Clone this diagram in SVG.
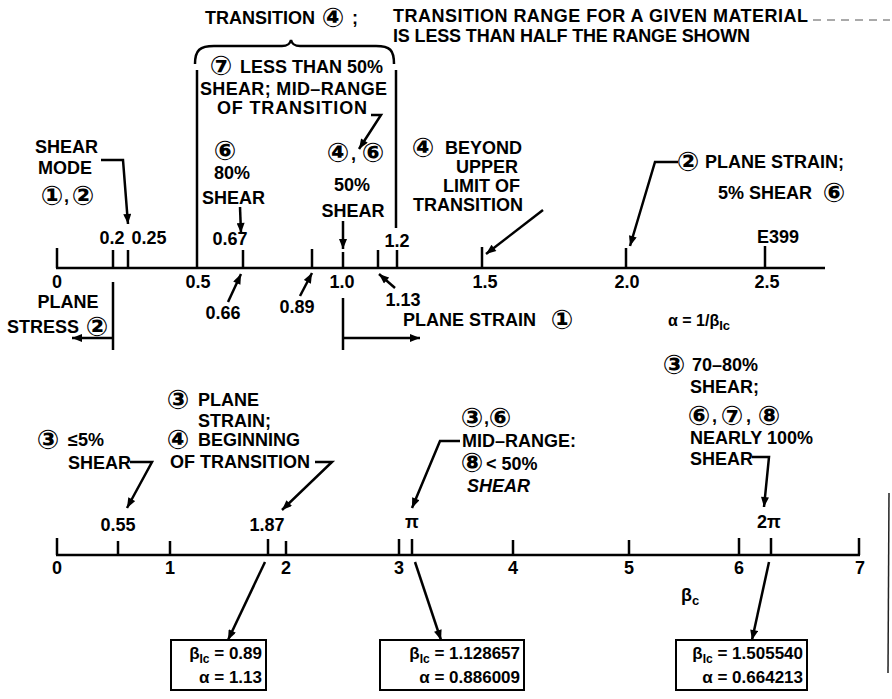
<svg xmlns="http://www.w3.org/2000/svg" width="892" height="699" viewBox="0 0 892 699">
<defs>
<style>
.t{font-family:"Liberation Sans","DejaVu Sans",sans-serif;font-weight:bold;font-size:18px;fill:#000}
.c{font-family:"DejaVu Sans","Liberation Sans",sans-serif;font-weight:bold;font-size:27px;fill:#000;text-anchor:middle}
.m{text-anchor:middle}
.e{text-anchor:end}
.b{font-size:17px}
.f{font-size:16px}
.ln{stroke:#000;stroke-width:2.5;fill:none}
.ar{marker-end:url(#ah)}
.tk{stroke:#000;stroke-width:2.5}
.bx{fill:#fff;stroke:#000;stroke-width:2}
</style>
<marker id="ah" viewBox="0 0 10 8" refX="10" refY="4" markerWidth="11" markerHeight="8" markerUnits="userSpaceOnUse" orient="auto">
<path d="M0,0 L10,4 L0,8 z" fill="#000"/>
</marker>
</defs>
<rect width="892" height="699" fill="#fff"/>

<g id="title">
<text class="t" x="205" y="24">TRANSITION</text>
<text class="c" x="333" y="27">④</text>
<text class="t" x="352" y="24">;</text>
<text class="t" x="393" y="22" textLength="415">TRANSITION RANGE FOR A GIVEN MATERIAL</text>
<text class="t" x="393" y="42" textLength="357">IS LESS THAN HALF THE RANGE SHOWN</text>
</g>

<g id="transition-bracket">
<path class="ln" d="M195,64 C195,50 200,46 214,46 L282,46 C288,46 290,44 291,40 C292,44 294,46 300,46 L376,46 C390,46 394,50 394,64"/>
<line class="tk" x1="197" y1="70" x2="197" y2="268"/>
<line class="tk" x1="396" y1="70" x2="396" y2="228"/>
<text class="c" x="221" y="75">⑦</text>
<text class="t" x="240" y="73">LESS THAN 50%</text>
<text class="t" x="200" y="95" textLength="187">SHEAR; MID–RANGE</text>
<text class="t" x="217" y="114" textLength="150">OF TRANSITION</text>
</g>

<g id="n-80shear">
<text class="c" x="225" y="160">⑥</text>
<text class="t m" x="232" y="179">80%</text>
<text class="t" x="202" y="204">SHEAR</text>
</g>

<g id="n-50shear">
<text class="c" x="338" y="162">④</text>
<text class="t" x="351" y="160">,</text>
<text class="c" x="373" y="162">⑥</text>
<text class="t m" x="352" y="191">50%</text>
<text class="t m" x="353" y="217">SHEAR</text>
</g>

<g id="n-shearmode">
<text class="t" x="35" y="153">SHEAR</text>
<text class="t" x="38" y="174">MODE</text>
<text class="c" x="52" y="205">①</text>
<text class="t" x="64" y="202">,</text>
<text class="c" x="83" y="205">②</text>
</g>

<g id="n-beyond">
<text class="c" x="423" y="157">④</text>
<text class="t" x="445" y="154">BEYOND</text>
<text class="t e" x="518" y="173">UPPER</text>
<text class="t e" x="520" y="192">LIMIT OF</text>
<text class="t e" x="523" y="211">TRANSITION</text>
</g>

<g id="n-planestrain2">
<text class="c" x="688" y="171">②</text>
<text class="t" x="705" y="168">PLANE STRAIN;</text>
<text class="t" x="718" y="199">5% SHEAR</text>
<text class="c" x="834" y="202">⑥</text>
</g>

<g id="upper-axis">
<line class="tk" x1="56" y1="268" x2="825" y2="268" stroke-width="3"/>
<line class="tk" x1="57" y1="248" x2="57" y2="268"/>
<line class="tk" x1="113" y1="250" x2="113" y2="268"/>
<line class="tk" x1="128" y1="250" x2="128" y2="268"/>
<line class="tk" x1="243" y1="250" x2="243" y2="268" stroke-width="5"/>
<line class="tk" x1="312" y1="249" x2="312" y2="268"/>
<line class="tk" x1="343" y1="252" x2="343" y2="268"/>
<line class="tk" x1="378" y1="250" x2="378" y2="268"/>
<line class="tk" x1="397" y1="250" x2="397" y2="268"/>
<line class="tk" x1="482" y1="247" x2="482" y2="268"/>
<line class="tk" x1="626" y1="248" x2="626" y2="268"/>
<line class="tk" x1="765" y1="246" x2="765" y2="268"/>
<text class="t m" x="112" y="244">0.2</text>
<text class="t m" x="149" y="244">0.25</text>
<text class="t m" x="230" y="245">0.67</text>
<text class="t m" x="397" y="247">1.2</text>
<text class="t m" x="778" y="243">E399</text>
<text class="t m" x="57" y="288">0</text>
<text class="t m" x="198" y="288">0.5</text>
<text class="t m" x="342" y="288">1.0</text>
<text class="t m" x="485" y="288">1.5</text>
<text class="t m" x="627" y="288">2.0</text>
<text class="t m" x="767" y="288">2.5</text>
<text class="t m" x="403" y="306">1.13</text>
<text class="t m" x="223" y="319">0.66</text>
<text class="t m" x="297" y="313">0.89</text>
</g>

<g id="n-planestress">
<text class="t m" x="68" y="308">PLANE</text>
<text class="t" x="7" y="333">STRESS</text>
<text class="c" x="97" y="336">②</text>
</g>

<g id="n-planestrain1">
<text class="t" x="403" y="326">PLANE STRAIN</text>
<text class="c" x="562" y="329">①</text>
</g>

<g id="n-alpha">
<text class="t f" x="668" y="326">α = 1/β<tspan font-size="13" dy="4">Ic</tspan></text>
</g>

<g id="n-le5">
<text class="c" x="48" y="449">③</text>
<text class="t" x="68" y="446">≤5%</text>
<text class="t" x="68" y="469">SHEAR</text>
</g>

<g id="n-beginning">
<text class="c" x="178" y="409">③</text>
<text class="t" x="198" y="406">PLANE</text>
<text class="t" x="198" y="427">STRAIN;</text>
<text class="c" x="178" y="449">④</text>
<text class="t" x="198" y="446">BEGINNING</text>
<text class="t" x="170" y="468">OF TRANSITION</text>
</g>

<g id="n-midrange">
<text class="c" x="472" y="427">③</text>
<text class="t" x="484" y="424">,</text>
<text class="c" x="500" y="427">⑥</text>
<text class="t" x="462" y="447">MID–RANGE:</text>
<text class="c" x="472" y="472" font-size="24">⑧</text>
<text class="t" x="486" y="470">&lt; 50%</text>
<text class="t" x="467" y="492" font-style="italic">SHEAR</text>
</g>

<g id="n-nearly100">
<text class="c" x="674" y="374">③</text>
<text class="t" x="692" y="371">70–80%</text>
<text class="t" x="690" y="393">SHEAR;</text>
<text class="c" x="699" y="425">⑥</text>
<text class="t" x="712" y="422">,</text>
<text class="c" x="732" y="425">⑦</text>
<text class="t" x="746" y="422">,</text>
<text class="c" x="769" y="425">⑧</text>
<text class="t" x="690" y="444">NEARLY 100%</text>
<text class="t" x="690" y="465">SHEAR</text>
</g>

<g id="lower-axis">
<line class="tk" x1="56" y1="555" x2="860" y2="555" stroke-width="3"/>
<line class="tk" x1="57" y1="538" x2="57" y2="555"/>
<line class="tk" x1="118" y1="541" x2="118" y2="555"/>
<line class="tk" x1="170" y1="541" x2="170" y2="555"/>
<line class="tk" x1="268" y1="539" x2="268" y2="555"/>
<line class="tk" x1="286" y1="541" x2="286" y2="555"/>
<line class="tk" x1="399" y1="539" x2="399" y2="555"/>
<line class="tk" x1="412" y1="539" x2="412" y2="555"/>
<line class="tk" x1="513" y1="540" x2="513" y2="555"/>
<line class="tk" x1="629" y1="540" x2="629" y2="555"/>
<line class="tk" x1="739" y1="538" x2="739" y2="555"/>
<line class="tk" x1="771" y1="538" x2="771" y2="555"/>
<line class="tk" x1="859" y1="538" x2="859" y2="555"/>
<text class="t m" x="118" y="531">0.55</text>
<text class="t m" x="267" y="531">1.87</text>
<text class="t m" x="412" y="528">π</text>
<text class="t m" x="769" y="528">2π</text>
<text class="t m" x="57" y="574">0</text>
<text class="t m" x="170" y="574">1</text>
<text class="t m" x="286" y="574">2</text>
<text class="t m" x="399" y="574">3</text>
<text class="t m" x="513" y="574">4</text>
<text class="t m" x="629" y="574">5</text>
<text class="t m" x="739" y="574">6</text>
<text class="t m" x="860" y="574">7</text>
<text class="t m" x="690" y="601">β<tspan font-size="13" dy="4">c</tspan></text>
</g>

<g id="box-1">
<rect class="bx" x="171" y="640" width="95" height="50"/>
<text class="t b e" x="262" y="659">β<tspan font-size="12" dy="4">Ic</tspan><tspan dy="-4"> = 0.89</tspan></text>
<text class="t b e" x="262" y="683">α = 1.13</text>
</g>

<g id="box-2">
<rect class="bx" x="380" y="640" width="144" height="50"/>
<text class="t b e" x="520" y="659">β<tspan font-size="12" dy="4">Ic</tspan><tspan dy="-4"> = 1.128657</tspan></text>
<text class="t b e" x="520" y="683">α = 0.886009</text>
</g>

<g id="box-3">
<rect class="bx" x="676" y="640" width="131" height="50"/>
<text class="t b e" x="803" y="659">β<tspan font-size="12" dy="4">Ic</tspan><tspan dy="-4"> = 1.505540</tspan></text>
<text class="t b e" x="803" y="683">α = 0.664213</text>
</g>

<g id="connectors">
<path class="ln ar" d="M101,160 H123 L128,224"/>
<path class="ln ar" d="M371,115 H381 L359,149"/>
<path class="ln ar" d="M240,207 L241,233"/>
<path class="ln ar" d="M343,221 V249"/>
<path class="ln ar" d="M543,210 L486,254"/>
<path class="ln ar" d="M678,162 H655 L630,246"/>
<path class="ln ar" d="M228,302 L241,274"/>
<path class="ln ar" d="M300,296 L312,273"/>
<path class="ln ar" d="M395,288 L379,274"/>
<path class="ln" d="M113,282 V350"/>
<path class="ln ar" d="M113,338 H72"/>
<path class="ln" d="M343,298 V350"/>
<path class="ln ar" d="M343,338 H420"/>
<path class="ln ar" d="M130,462 H152 L127,508"/>
<path class="ln ar" d="M315,462 H332 L282,510"/>
<path class="ln ar" d="M460,441 H440 L412,508"/>
<path class="ln ar" d="M752,457 H769 L764,507"/>
<path class="ln ar" d="M265,562 L228,640"/>
<path class="ln ar" d="M415,562 L441,640"/>
<path class="ln ar" d="M769,562 L752,640"/>
</g>

<g id="marks">
<line x1="813" y1="20" x2="890" y2="20" stroke="#555" stroke-width="1" stroke-dasharray="8 6"/>
<line x1="889" y1="493" x2="888" y2="673" stroke="#222" stroke-width="1.5"/>
</g>
</svg>
